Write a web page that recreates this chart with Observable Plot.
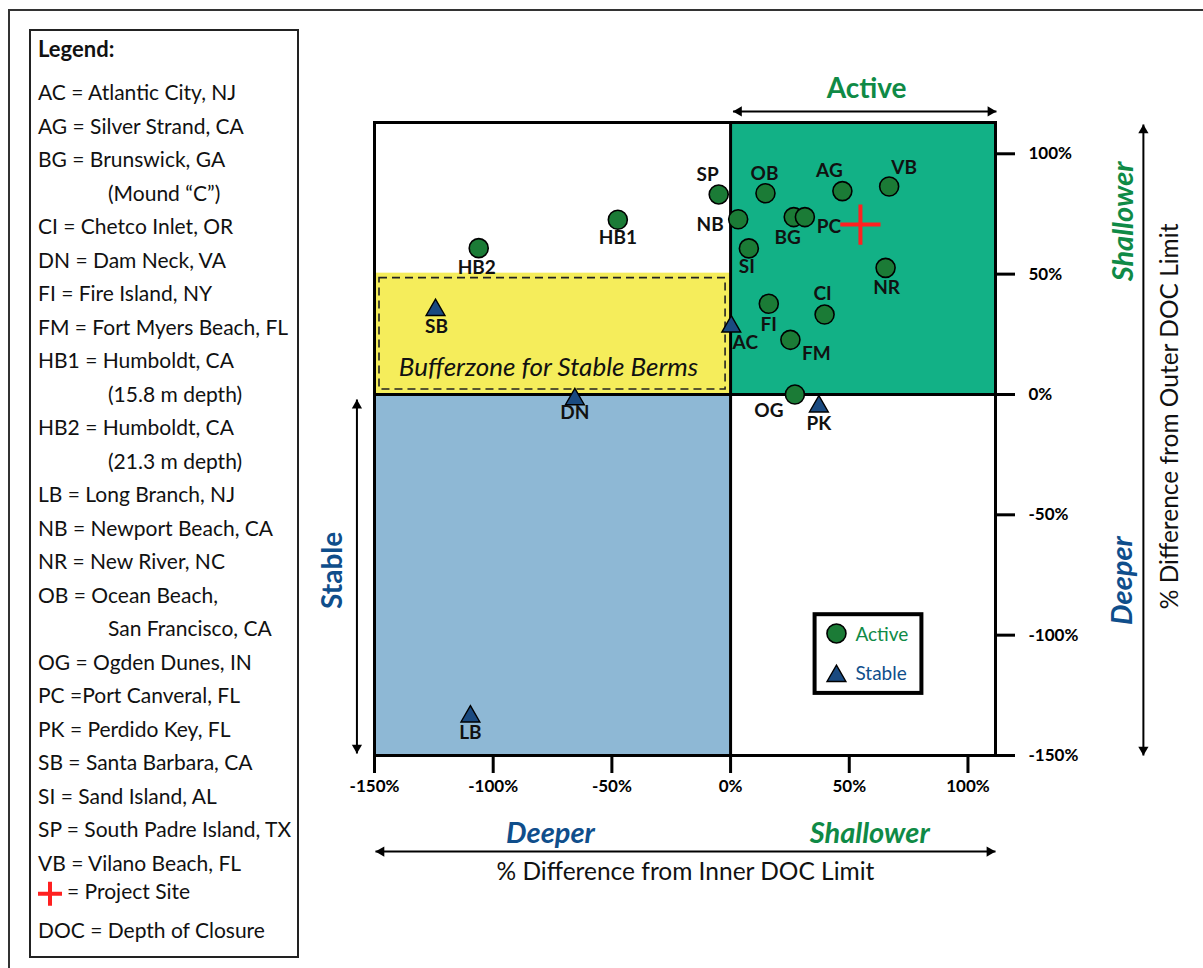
<!DOCTYPE html>
<html>
<head>
<meta charset="utf-8">
<script src="https://cdn.jsdelivr.net/npm/d3@7"></script>
<script src="https://cdn.jsdelivr.net/npm/@observablehq/plot@0.6"></script>
<style>
  html, body { margin: 0; padding: 0; background: #fff; }
  #page { position: relative; width: 1203px; height: 968px; overflow: hidden; font-family: Lato, "Open Sans", sans-serif; }
  #chart { position: absolute; left: 0; top: 0; }
  #border { position: absolute; left: 8px; top: 9px; right: -10px; bottom: -10px; border-top: 2px solid #333; border-left: 2px solid #333; }
  #key { position: absolute; left: 29px; top: 29px; width: 266px; height: 925px; border: 2px solid #222; background: #fff; }
  #key .ln { position: absolute; white-space: nowrap; font-size: 21px; color: #111; transform: translateY(-50%); }
  #key .ttl { font-weight: 700; font-size: 22px; }
</style>
</head>
<body>
<div id="page">
  <div id="chart"></div>
  <div id="border"></div>
  <div id="key"></div>
</div>
<script>
// Site codes and their berm behaviour
const codes = ["AC", "AG", "BG", "CI", "DN", "FI", "FM", "HB1", "HB2", "LB",
               "NB", "NR", "OB", "OG", "PC", "PK", "SB", "SI", "SP", "VB"];
// % difference from the inner depth-of-closure limit
const innerDiff = [0.3, 47.1, 26.6, 39.6, -65.6, 16.1, 25.2, -47.5, -106.1, -109.6,
                   3.2, 65.3, 14.7, 27.1, 31.3, 37.2, -124.3, 7.7, -5.0, 66.8];
// % difference from the outer depth-of-closure limit
const outerDiff = [28.2, 84.5, 73.7, 33.2, -2.0, 37.7, 22.7, 72.6, 60.8, -133.8,
                   72.8, 52.6, 83.6, 0.0, 73.7, -5.0, 35.1, 60.7, 83.1, 86.4];
const status = ["Stable", "Active", "Active", "Active", "Stable", "Active", "Active", "Active", "Active", "Stable",
                "Active", "Active", "Active", "Active", "Active", "Stable", "Stable", "Active", "Active", "Active"];

// Project site location
const projectInner = [54.7];
const projectOuter = [70.6];

// Axis ticks
const xTicks = [-150, -100, -50, 0, 50, 100];
const yTicks = [-150, -100, -50, 0, 50, 100];

// Zone extents (in % difference)
const zoneNames = ["Active", "Stable", "Buffer"];
const zoneX1 = [0, -150, -150];
const zoneX2 = [111.6, 0, 0];
const zoneY1 = [0, -150, 0];
const zoneY2 = [113, 0, 50.4];

// Site key entries
const keyLines = [
  ["AC = Atlantic City, NJ", 0], ["AG = Silver Strand, CA", 0], ["BG = Brunswick, GA", 0],
  ["(Mound \u201CC\u201D)", 1], ["CI = Chetco Inlet, OR", 0], ["DN = Dam Neck, VA", 0],
  ["FI = Fire Island, NY", 0], ["FM = Fort Myers Beach, FL", 0], ["HB1 = Humboldt, CA", 0],
  ["(15.8 m depth)", 1], ["HB2 = Humboldt, CA", 0], ["(21.3 m depth)", 1],
  ["LB = Long Branch, NJ", 0], ["NB = Newport Beach, CA", 0], ["NR = New River, NC", 0],
  ["OB = Ocean Beach,", 0], ["San Francisco, CA", 1], ["OG = Ogden Dunes, IN", 0],
  ["PC =Port Canveral, FL", 0], ["PK = Perdido Key, FL", 0], ["SB = Santa Barbara, CA", 0],
  ["SI = Sand Island, AL", 0], ["SP = South Padre Island, TX", 0], ["VB = Vilano Beach, FL", 0]
];

const sites = codes.map((code, i) => ({code, x: innerDiff[i], y: outerDiff[i], status: status[i]}));
const project = projectInner.map((x, i) => ({x, y: projectOuter[i]}));
const zones = zoneNames.map((name, i) => ({name, x1: zoneX1[i], x2: zoneX2[i], y1: zoneY1[i], y2: zoneY2[i]}));

const GREEN_ZONE = "#12b186", BLUE_ZONE = "#8eb8d5", YELLOW_ZONE = "#f5ed5b";
const DOT_GREEN = "#1b7b36", TRI_BLUE = "#1a4a80";
const TEXT_GREEN = "#0f8a46", TEXT_BLUE = "#0f4e8b";

// Label offsets (px) so the codes sit clear of their markers
const labelOffset = {
  SP: [-11, -20], OB: [-1, -19], AG: [-13, -20], VB: [15, -19], NB: [-28, 6],
  BG: [-6, 21], PC: [24, 10], SI: [-2, 19], NR: [1, 20], CI: [-2, -21],
  FI: [0, 21], FM: [26, 14], OG: [-26, 16], PK: [0, 17], AC: [14, 16],
  SB: [1, 17], DN: [0, 14], LB: [0, 16], HB1: [0, 18], HB2: [-2, 20]
};

// Double-headed arrow built from a link and two triangle heads
const HEAD_R = 3.8, HEAD_OFF = 5.9;
function hArrow(y, xa, xb) {
  return [
    Plot.link([{xa, xb, y}], {x1: "xa", x2: "xb", y1: "y", y2: "y", stroke: "black", strokeWidth: 2}),
    Plot.dot([{x: xa, y}], {x: "x", y: "y", symbol: "triangle", r: HEAD_R, fill: "black", rotate: -90, dx: HEAD_OFF}),
    Plot.dot([{x: xb, y}], {x: "x", y: "y", symbol: "triangle", r: HEAD_R, fill: "black", rotate: 90, dx: -HEAD_OFF})
  ];
}
function vArrow(x, ya, yb) {
  return [
    Plot.link([{x, ya, yb}], {x1: "x", x2: "x", y1: "ya", y2: "yb", stroke: "black", strokeWidth: 2}),
    Plot.dot([{x, y: yb}], {x: "x", y: "y", symbol: "triangle", r: HEAD_R, fill: "black", rotate: 0, dy: HEAD_OFF}),
    Plot.dot([{x, y: ya}], {x: "x", y: "y", symbol: "triangle", r: HEAD_R, fill: "black", rotate: 180, dy: -HEAD_OFF})
  ];
}

const active = sites.filter(d => d.status === "Active");
const stable = sites.filter(d => d.status === "Stable");

const chart = Plot.plot({
  width: 1203,
  height: 968,
  marginLeft: 374,
  marginRight: 208,
  marginTop: 122,
  marginBottom: 213,
  x: {domain: [-150, 111.6]},
  y: {domain: [-150, 113]},
  style: {fontFamily: "Lato, 'Open Sans', sans-serif", fontSize: "17px", color: "black", background: "transparent", overflow: "visible"},
  marks: [
    // zones
    Plot.rect(zones.filter(d => d.name === "Active"), {x1: "x1", x2: "x2", y1: "y1", y2: "y2", fill: GREEN_ZONE}),
    Plot.rect(zones.filter(d => d.name === "Stable"), {x1: "x1", x2: "x2", y1: "y1", y2: "y2", fill: BLUE_ZONE}),
    Plot.rect(zones.filter(d => d.name === "Buffer"), {x1: "x1", x2: "x2", y1: "y1", y2: "y2", fill: YELLOW_ZONE}),
    Plot.rect(zones.filter(d => d.name === "Buffer"), {
      x1: "x1", x2: "x2", y1: "y1", y2: "y2", fill: "none", stroke: "#222",
      strokeWidth: 1.6, strokeDasharray: "8,5", inset: 5
    }),
    Plot.text(["Bufferzone for Stable Berms"], {x: -76.7, y: 11.2, fontStyle: "italic", fontSize: 26, fill: "#111"}),

    // axes
    Plot.axisX({ticks: xTicks, tickFormat: d => d + "%", tickSize: 18, tickPadding: 6, strokeWidth: 3,
                fontWeight: "bold", fontSize: 17, label: null}),
    Plot.axisY({anchor: "right", ticks: yTicks, tickFormat: d => d + "%", tickSize: 19, tickPadding: 14, strokeWidth: 3,
                fontWeight: "bold", fontSize: 17, label: null}),

    // quadrant dividers and frame
    Plot.ruleX([0], {strokeWidth: 3, stroke: "black"}),
    Plot.ruleY([0], {strokeWidth: 3, stroke: "black"}),
    Plot.frame({strokeWidth: 3, stroke: "black"}),

    // sites
    Plot.dot(active, {x: "x", y: "y", symbol: "circle", r: 9.5, fill: DOT_GREEN, stroke: "black", strokeWidth: 1.6}),
    Plot.dot(stable, {x: "x", y: "y", symbol: "triangle", r: 7, fill: TRI_BLUE, stroke: "black", strokeWidth: 1.4}),
    ...sites.map(d => Plot.text([d], {
      x: "x", y: "y", text: "code", dx: labelOffset[d.code][0], dy: labelOffset[d.code][1],
      fontWeight: "bold", fontSize: 19, fill: "#111"
    })),

    // project site
    Plot.dot(project, {x: "x", y: "y", symbol: "plus", r: 13, stroke: "#ff2020", strokeWidth: 4}),

    // in-plot legend
    Plot.rect([{}], {x1: 35.6, x2: 80.6, y1: -91.5, y2: -124.2, fill: "white", stroke: "black", strokeWidth: 4}),
    Plot.dot([{}], {x: 44.6, y: -99.3, symbol: "circle", r: 9.5, fill: DOT_GREEN, stroke: "black", strokeWidth: 1.6}),
    Plot.dot([{}], {x: 44.6, y: -117.0, symbol: "triangle", r: 7, fill: TRI_BLUE, stroke: "black", strokeWidth: 1.4}),
    Plot.text(["Active"], {x: 52.6, y: -99.7, textAnchor: "start", fontSize: 19, fill: TEXT_GREEN}),
    Plot.text(["Stable"], {x: 52.6, y: -116.2, textAnchor: "start", fontSize: 19, fill: TEXT_BLUE}),

    // direction arrows
    ...hArrow(117.6, 1.0, 112.0),
    ...vArrow(173.9, -150, 112.2),
    ...vArrow(-157.4, -149.2, -2.1),
    ...hArrow(-189.9, -149.6, 111.6),

    // annotations
    Plot.text(["Active"], {x: 57.3, y: 126.7, fontWeight: "bold", fontSize: 28, fill: TEXT_GREEN}),
    Plot.text(["Stable"], {x: -167.3, y: -73.1, rotate: -90, fontWeight: "bold", fontSize: 28, fill: TEXT_BLUE}),
    Plot.text(["Shallower"], {x: 165.5, y: 71.9, rotate: -90, fontWeight: "bold", fontStyle: "italic", fontSize: 29, fill: TEXT_GREEN}),
    Plot.text(["Deeper"], {x: 165.1, y: -77.3, rotate: -90, fontWeight: "bold", fontStyle: "italic", fontSize: 29, fill: TEXT_BLUE}),
    Plot.text(["% Difference from Outer DOC Limit"], {x: 185.3, y: -9.1, rotate: -90, fontSize: 24.5, fill: "#111"}),
    Plot.text(["Deeper"], {x: -75.9, y: -182.4, fontWeight: "bold", fontStyle: "italic", fontSize: 29, fill: TEXT_BLUE}),
    Plot.text(["Shallower"], {x: 58.6, y: -182.4, fontWeight: "bold", fontStyle: "italic", fontSize: 29, fill: TEXT_GREEN}),
    Plot.text(["% Difference from Inner DOC Limit"], {x: -19.0, y: -198.6, fontSize: 24.5, fill: "#111"})
  ]
});
document.getElementById("chart").append(chart);

// Site key on the left
const key = document.getElementById("key");
const inner = 31; // page offset of the key's content box
function addLine(html, yCenter, left, cls) {
  const el = document.createElement("div");
  el.className = "ln" + (cls ? " " + cls : "");
  el.style.top = (yCenter - inner) + "px";
  el.style.left = (left - inner) + "px";
  el.innerHTML = html;
  key.append(el);
}
addLine("Legend:", 48, 38, "ttl");
keyLines.forEach(([t, indent], i) => addLine(t, 91 + i * 33.52, indent ? 108 : 38));
addLine('<svg width="26" height="26" style="vertical-align:middle;margin-right:4px"><path d="M1,13H25M13,1V25" stroke="#ff2020" stroke-width="4"/></svg>= Project Site', 892, 37);
addLine("DOC = Depth of Closure", 929, 38);
</script>
</body>
</html>
